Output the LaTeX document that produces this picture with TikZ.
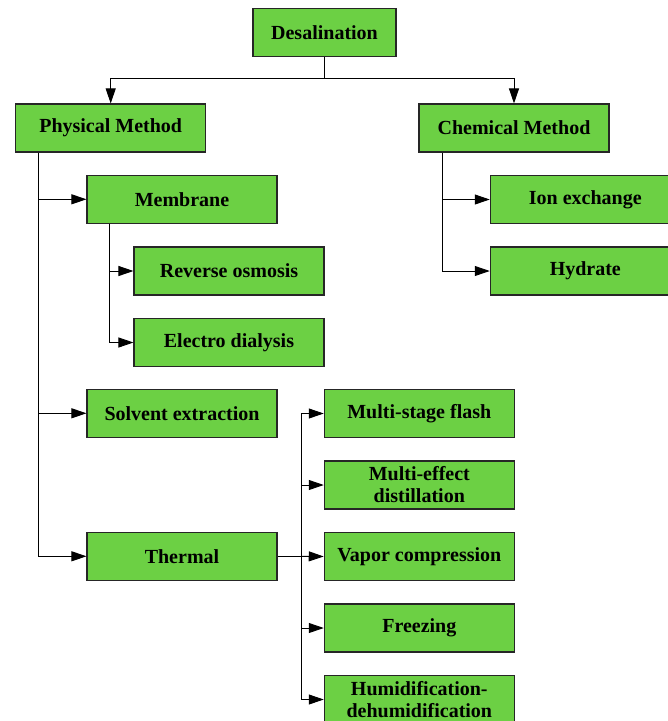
\documentclass[tikz,border=0pt]{standalone}
\usepackage{fontspec}
\setmainfont{Liberation Serif}
\usetikzlibrary{arrows.meta,positioning}
\definecolor{boxgreen}{RGB}{108,208,68}

\begin{document}
\begin{tikzpicture}[x=1pt,y=-1pt,node distance=22.4pt,
  box/.style={draw=black!85,line width=1.1pt,fill=boxgreen,align=center,inner sep=0pt,
    minimum width=190pt,minimum height=48pt,font=\fontsize{20}{22}\selectfont\bfseries},
  arr/.style={-{Triangle[length=15pt,width=10pt]},line width=0.9pt,draw=black},
  link/.style={line width=0.9pt,draw=black}]
\useasboundingbox (0,0) rectangle (668,721);
\clip (0,0) rectangle (668,721);
\node[box,minimum width=143pt] (des) at (324.5,32.3) {Desalination};
\node[box] (phys) at (110.7,128) {Physical Method};
\node[box] (chem) at (514,128) {Chemical Method};
\node[box] (memb) at (182,199.3) {Membrane};
\node[box] (ro) at (229,271) {Reverse osmosis};
\node[box,below=of ro] (ed) {Electro dialysis};
\node[box] (solv) at (182,413.3) {Solvent extraction};
\node[box] (therm) at (182,556.3) {Thermal};
\node[box] (ion) at (585.3,199.5) {Ion exchange};
\node[box,below=of ion] (hyd) {Hydrate};
\node[box] (msf) at (419.3,413.5) {Multi-stage flash};
\node[box,below=of msf] (med) {Multi-effect\\distillation};
\node[box,below=of med] (vc) {Vapor compression};
\node[box,below=of vc] (frz) {Freezing};
\node[box,below=of frz] (hd) {Humidification-\\dehumidification};
% top split
\coordinate (split) at (324.5,78);
\draw[arr] (des.south) -- (split) -| (phys.north);
\draw[arr] (split) -| (chem.north);
% physical
\coordinate (pt) at ([xshift=23.6pt]phys.south west);
\draw[arr] (pt) |- (memb.west);
\draw[arr] (pt) |- (solv.west);
\draw[arr] (pt) |- (therm.west);
\coordinate (mt) at ([xshift=23.4pt]memb.south west);
\draw[arr] (mt) |- (ro.west);
\draw[arr] (mt) |- (ed.west);
% chemical
\coordinate (ct) at ([xshift=23.7pt]chem.south west);
\draw[arr] (ct) |- (ion.west);
\draw[arr] (ct) |- (hyd.west);
% thermal
\coordinate (tt) at ([xshift=23.7pt]therm.east);
\draw[link] (therm.east) -- (tt);
\draw[arr] (tt) -- (vc.west);
\draw[arr] (tt) |- (msf.west);
\draw[arr] (tt) |- (hd.west);
\draw[arr] (tt|-med.west) -- (med.west);
\draw[arr] (tt|-frz.west) -- (frz.west);
\end{tikzpicture}
\end{document}
